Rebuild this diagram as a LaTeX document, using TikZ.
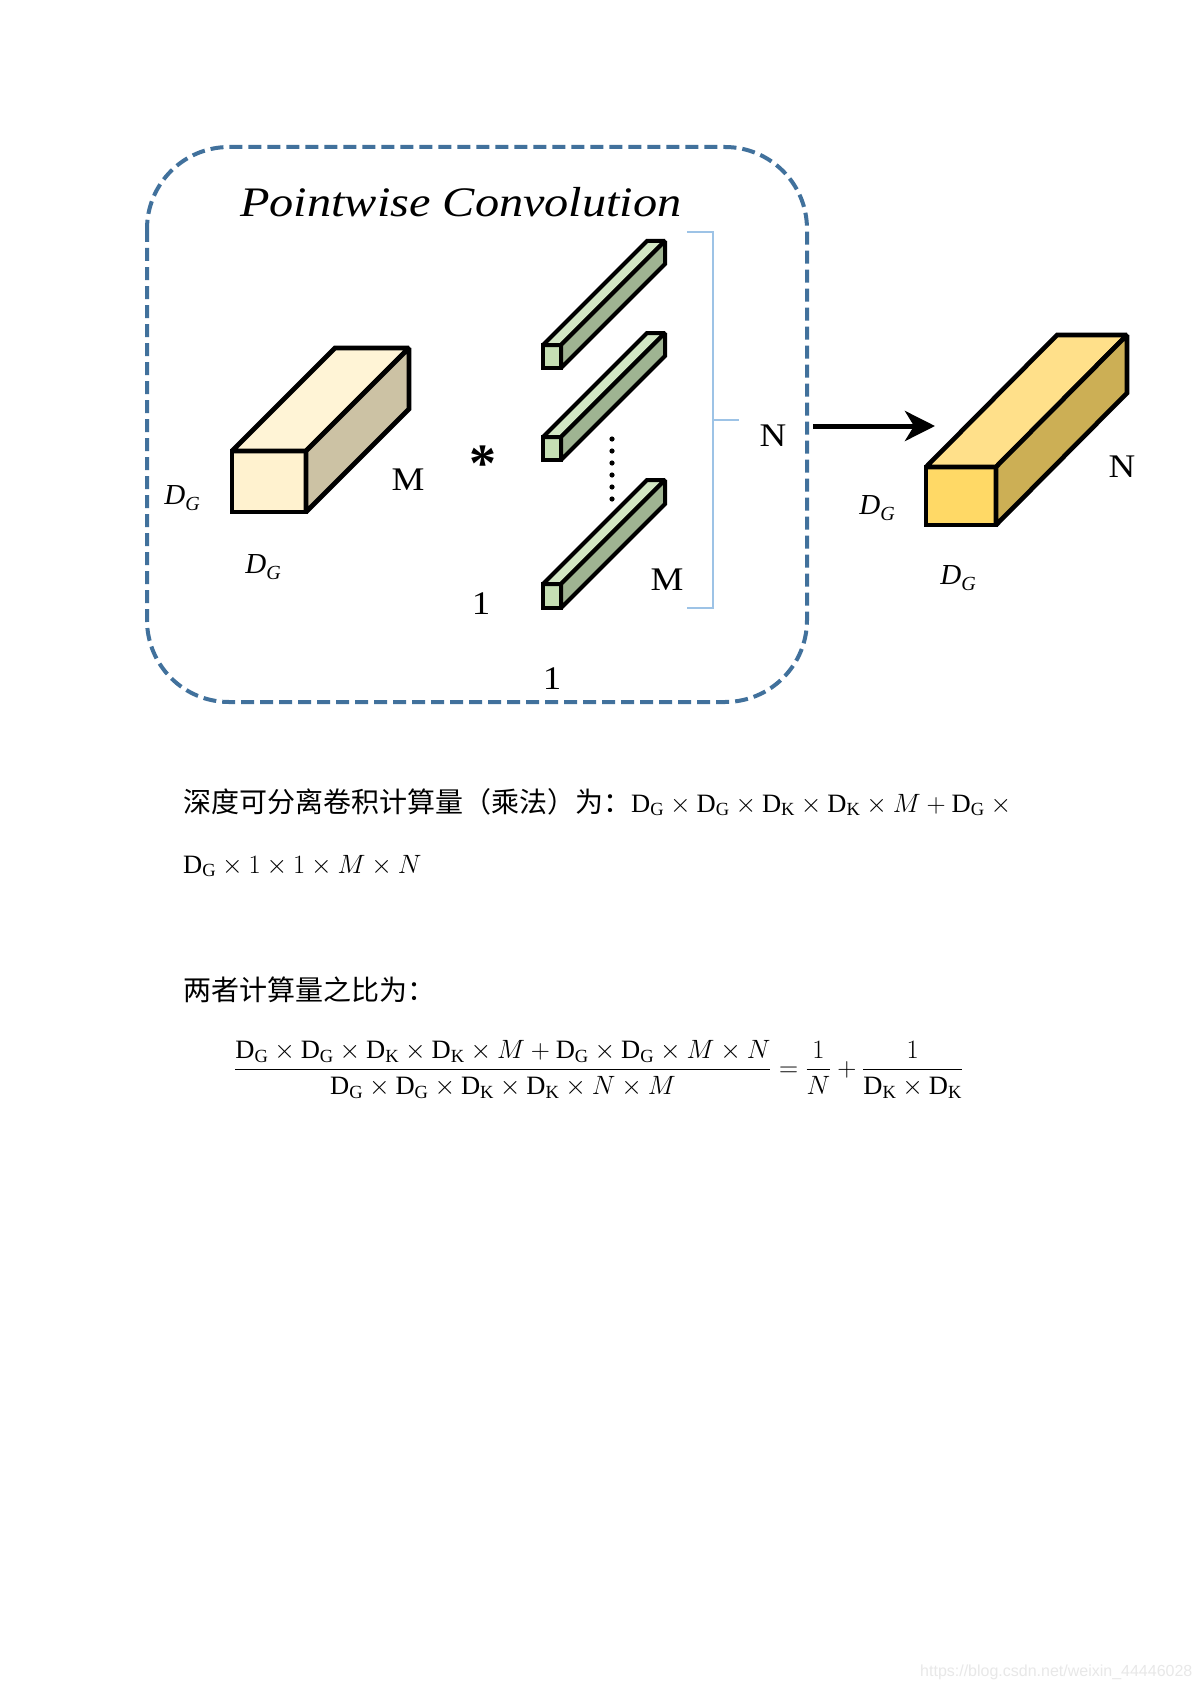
\RequirePackage{fix-cm}
\documentclass[tikz,border=0pt]{standalone}
\usepackage{fontspec}
\setmainfont{Liberation Serif}
\newfontfamily\cjk{Noto Sans CJK SC}
\newfontfamily\wmfont{Liberation Sans}
\usetikzlibrary{arrows.meta}
\definecolor{boxblue}{HTML}{41719C}
\definecolor{brblue}{HTML}{9DC3E6}
\definecolor{creamF}{HTML}{FFF2CF}
\definecolor{creamT}{HTML}{FFF4D6}
\definecolor{creamS}{HTML}{CCC2A4}
\definecolor{goldF}{HTML}{FFD966}
\definecolor{goldT}{HTML}{FFE08A}
\definecolor{goldS}{HTML}{CCAF55}
\definecolor{greenF}{HTML}{C5DFB4}
\definecolor{greenT}{HTML}{D2E6C4}
\definecolor{greenS}{HTML}{9FB492}
\newcommand\DG{\mathrm{D}_{\mathrm{G}}}
\newcommand\DK{\mathrm{D}_{\mathrm{K}}}
\newcommand\mylab[1]{\fontsize{33}{40}\selectfont\scalebox{1.12}[1]{#1}}
\newcommand\dglabel{{\fontsize{29}{34}\selectfont\itshape D\raisebox{-6pt}{\fontsize{20}{24}\selectfont G}}}
% x, y (front top-left), w, h, dx, dy (up), colour prefix
\newcommand\cuboid[7]{%
  \filldraw[fill=#7F] (#1,#2) rectangle (#1+#3,#2+#4);
  \filldraw[fill=#7T] (#1,#2) -- (#1+#5,#2-#6) -- (#1+#3+#5,#2-#6) -- (#1+#3,#2) -- cycle;
  \filldraw[fill=#7S] (#1+#3,#2) -- (#1+#3+#5,#2-#6) -- (#1+#3+#5,#2+#4-#6) -- (#1+#3,#2+#4) -- cycle;
}
\tikzset{
  lbl/.style={inner sep=0pt},
  formula/.style={inner sep=0pt, anchor=base west},
  solid3d/.style={line join=miter, miter limit=2},
}
\begin{document}
\begin{tikzpicture}[x=1pt,y=-1pt]
\useasboundingbox[fill=white] (0,0) rectangle (1200,1688);

% dashed frame
\draw[boxblue, line width=4pt, dash pattern=on 13pt off 6pt, rounded corners=82pt]
  (147,147) rectangle (807,702);

% title
\node[lbl, anchor=base west] (title) at (240,217)
  {\fontsize{42}{50}\selectfont\itshape\scalebox{1.15}[1]{Pointwise Convolution}};

% left cuboid
\begin{scope}[line width=4.8pt, solid3d]
  \cuboid{232}{451}{74}{61}{103}{103}{cream}
\end{scope}
\node[lbl] (dgl1) at (182,498) {\dglabel};
\node[lbl] (dgl2) at (263,567) {\dglabel};
\node[lbl] (ml) at (408,480) {\mylab{M}};

% asterisk
\node[lbl, anchor=base] (ast) at (483,481) {\fontsize{54}{64}\selectfont\bfseries *};

% green kernels
\begin{scope}[line width=4pt, solid3d]
  \cuboid{543}{345}{18}{23}{104}{104}{green}
  \cuboid{543}{437}{18}{23}{104}{104}{green}
  \cuboid{543}{584}{18}{24}{104}{104}{green}
\end{scope}
\foreach \k in {0,...,5} \fill (612,439+12*\k) circle[radius=2.6pt];
\node[lbl] (one1) at (481,604) {\mylab{1}};
\node[lbl] (mk) at (667,580) {\mylab{M}};
\node[lbl] (one2) at (552,679) {\mylab{1}};

% bracket
\draw[brblue, line width=1.4pt] (687,232) -- (713,232) -- (713,608) -- (687,608);
\draw[brblue, line width=1.4pt] (713,420) -- (739,420);
\node[lbl] (nk) at (773,436) {\mylab{N}};

% arrow
\coordinate (arrS) at (813,426);
\coordinate (arrE) at (935,426);
\draw[line width=5pt, -{Stealth[length=30pt, width=30pt, inset=9pt]}] (arrS) -- (arrE);

% right cuboid
\begin{scope}[line width=4.6pt, solid3d]
  \cuboid{926}{467}{70}{58}{131}{132}{gold}
\end{scope}
\node[lbl] (nr) at (1122,467) {\mylab{N}};
\node[lbl] (dgr1) at (877,508) {\dglabel};
\node[lbl] (dgr2) at (958,578) {\dglabel};

% text below
\node[formula] (line1) at (183,812)
  {{\cjk\fontsize{28}{34}\selectfont 深度可分离卷积计算量（乘法）为：}{\fontsize{26.5}{31}\selectfont$\DG\times\DG\times\DK\times\DK\times M+\DG\times{}$}};
\node[formula] (line2) at (183,873)
  {\fontsize{26.5}{31}\selectfont$\DG\times 1\times 1\times M\times N$};
\node[formula] (line3) at (183,1000)
  {\cjk\fontsize{28}{34}\selectfont 两者计算量之比为：};
\node[formula] (ratio) at (234,1076)
  {\fontsize{26.5}{31}\selectfont$\displaystyle\frac{\DG\times\DG\times\DK\times\DK\times M+\DG\times\DG\times M\times N}{\DG\times\DG\times\DK\times\DK\times N\times M}=\frac{1}{N}+\frac{1}{\DK\times\DK}$};

% watermark
\node[formula, text=black!9] (wm) at (920,1676)
  {\wmfont\fontsize{16}{19}\selectfont https://blog.csdn.net/weixin\_44446028};
\end{tikzpicture}
\end{document}
